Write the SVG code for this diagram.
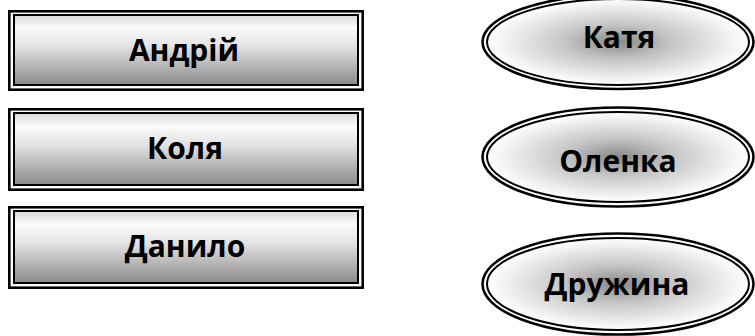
<svg xmlns="http://www.w3.org/2000/svg" width="755" height="336" viewBox="0 0 755 336">
<defs>
<linearGradient id="gr" x1="0" y1="0" x2="0" y2="1">
<stop offset="0" stop-color="#d8d8d8"/>
<stop offset="0.18" stop-color="#fbfbfb"/>
<stop offset="0.45" stop-color="#e2e2e2"/>
<stop offset="1" stop-color="#8a8a8a"/>
</linearGradient>
<radialGradient id="ge" cx="0.5" cy="0.5" r="0.5">
<stop offset="0" stop-color="#888888"/>
<stop offset="0.4" stop-color="#c4c4c4"/>
<stop offset="1" stop-color="#ffffff"/>
</radialGradient>
</defs>
<style>
.fr{fill:url(#gr);stroke:none}
.fe{fill:url(#ge);stroke:none}
.o{fill:none;stroke:#000;stroke-width:2.6}
.i{fill:none;stroke:#000;stroke-width:2}
text{font-family:"Open Sans","Noto Sans","DejaVu Sans",sans-serif;font-weight:bold;font-size:30px;text-anchor:middle;fill:#000}
</style>
<rect width="755" height="336" fill="#fff"/>
<g id="andrii">
<rect class="fr" x="14" y="15" width="344" height="70"/>
<rect class="o" x="9.3" y="11.3" width="353.4" height="78.4"/>
<rect class="i" x="14" y="15" width="344" height="70"/>
<text x="184" y="61">Андрій</text>
</g>
<g id="kolia">
<rect class="fr" x="14" y="113" width="344" height="72"/>
<rect class="o" x="9.3" y="109.3" width="353.4" height="80.4"/>
<rect class="i" x="14" y="113" width="344" height="72"/>
<text x="185" y="159">Коля</text>
</g>
<g id="danylo">
<rect class="fr" x="14" y="211" width="344" height="72"/>
<rect class="o" x="9.3" y="207.3" width="353.4" height="80.4"/>
<rect class="i" x="14" y="211" width="344" height="72"/>
<text x="185" y="257">Данило</text>
</g>
<g id="katia">
<ellipse class="fe" cx="618" cy="42" rx="131" ry="43"/>
<ellipse class="o" cx="618" cy="42" rx="135.5" ry="47"/>
<ellipse class="i" cx="618" cy="42" rx="131" ry="43"/>
<text x="619" y="48">Катя</text>
</g>
<g id="olenka">
<ellipse class="fe" cx="618" cy="157" rx="131" ry="45"/>
<ellipse class="o" cx="618" cy="157" rx="135.5" ry="49.5"/>
<ellipse class="i" cx="618" cy="157" rx="131" ry="45"/>
<text x="618" y="172">Оленка</text>
</g>
<g id="druzhyna">
<ellipse class="fe" cx="618" cy="284" rx="131" ry="46"/>
<ellipse class="o" cx="618" cy="284" rx="135.5" ry="50.5"/>
<ellipse class="i" cx="618" cy="284" rx="131" ry="46"/>
<text x="617" y="295">Дружина</text>
</g>
<g id="connectors"/>
</svg>
